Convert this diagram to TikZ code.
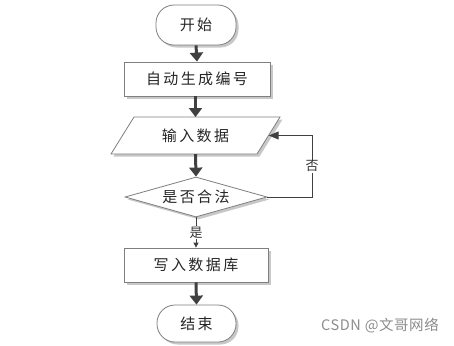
\documentclass[tikz,border=0pt]{standalone}
\usepackage{fontspec}
\newfontfamily\cjk[LetterSpace=16]{Noto Sans CJK SC}
\newfontfamily\wm[LetterSpace=4]{Noto Sans CJK SC}
\usetikzlibrary{arrows.meta,shapes.geometric,shadows}
\definecolor{bord}{HTML}{7F7F7F}
\definecolor{arr}{HTML}{404040}
\definecolor{shd}{HTML}{C8C8C8}
\tikzset{
  shad/.style={drop shadow={shadow xshift=2.5pt,shadow yshift=-2.5pt,fill=shd,opacity=1}},
  txt/.style={font=\cjk\fontsize{15}{17}\selectfont,text=black!85},
  boxbase/.style={draw=bord,line width=0.8pt,fill=white,shad,inner sep=0pt,txt},
  term/.style={boxbase,rounded corners=18pt},
  procbox/.style={boxbase,rectangle},
  dec/.style={boxbase,diamond,aspect=3.55},
  thickarr/.style={draw=arr,line width=3pt,-{Triangle[length=9pt,width=13pt]}},
  thinarr/.style={draw=arr,line width=1pt},
  lbl/.style={fill=white,inner sep=1pt,font=\cjk\fontsize{13}{15}\selectfont,text=black!80}
}
\begin{document}
\begin{tikzpicture}[x=1pt,y=-1pt]
\useasboundingbox (0,0) rectangle (454,345);
% shapes
\node[term,minimum width=80pt,minimum height=40pt] (start) at (196,25) {开始};
\node[procbox,minimum width=146pt,minimum height=34pt] (gen) at (197,79) {自动生成编号};
\path[draw=bord,line width=0.8pt,fill=white,shad] (134,117) -- (280,117) -- (257,154) -- (111,154) -- cycle;
\node[minimum width=146pt,minimum height=37pt,inner sep=0pt,txt] (in) at (195.5,135.5) {输入数据};
\node[dec,minimum width=142pt,minimum height=40pt] (dia) at (196,197) {是否合法};
\node[procbox,minimum width=144pt,minimum height=34pt] (wr) at (196,265) {写入数据库};
\node[term,minimum width=79pt,minimum height=37pt] (end) at (196.5,323.5) {结束};
% connectors
\draw[thickarr] (start.south) -- (gen.north);
\draw[thickarr] (gen.south -| in.south) -- (in.south |- 117,117);
\draw[thickarr] (in.south) -- (dia.north);
\draw[thinarr,-{Triangle[length=5pt,width=5pt]}] (dia.south) -- node[lbl,pos=0.5] {是} (wr.north);
\draw[thickarr] (wr.south) -- (end.north);
\coordinate (loopc) at (312,197);
\draw[thinarr,-{Triangle[length=10pt,width=8pt]}] (dia.east) -- (loopc) |- node[lbl,pos=0.25] {否} (in.east);
% watermark
\node[anchor=east,inner sep=0pt,font=\wm\fontsize{14.5}{16}\selectfont,text=black!45] (wmark) at (439,326) {CSDN @文哥网络};
\end{tikzpicture}
\end{document}
